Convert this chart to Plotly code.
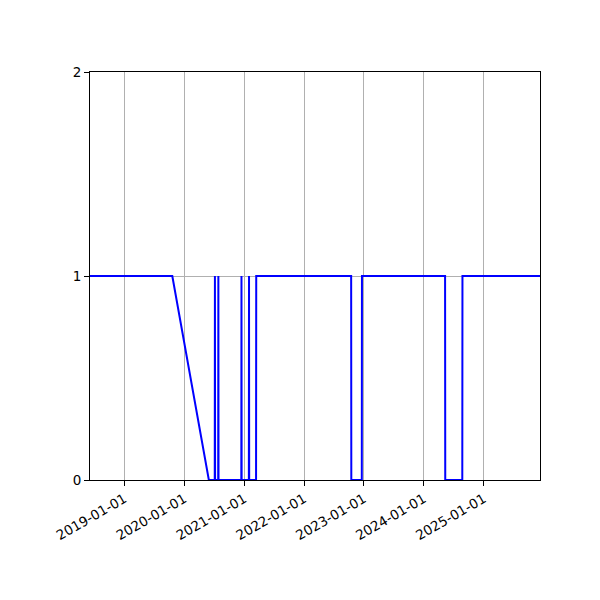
import plotly.graph_objects as go

# daily 0/1 flag, written as the points where it changes
dates = [
    "2018-06-05", "2019-10-20", "2020-05-30",
    "2020-07-05", "2020-07-06", "2020-07-07",
    "2020-07-26", "2020-07-27", "2020-07-28",
    "2020-12-14", "2020-12-15", "2020-12-16",
    "2021-01-29", "2021-01-30", "2021-01-31",
    "2021-03-14", "2021-03-15",
    "2022-10-15", "2022-10-16",
    "2022-12-19", "2022-12-20",
    "2024-05-10", "2024-05-11",
    "2024-08-23", "2024-08-24",
    "2025-12-10",
]
values = [
    1, 1, 0,
    0, 1, 0,
    0, 1, 0,
    0, 1, 0,
    0, 1, 0,
    0, 1,
    1, 0,
    0, 1,
    1, 0,
    0, 1,
    1,
]
x_ticks = ["2019-01-01", "2020-01-01", "2021-01-01", "2022-01-01",
           "2023-01-01", "2024-01-01", "2025-01-01"]
y_ticks = [0, 1, 2]

fig = go.Figure()
fig.add_trace(go.Scatter(
    x=dates,
    y=values,
    mode="lines",
    line=dict(color="blue", width=2),
    showlegend=False,
))

axis_style = dict(
    showline=True,
    linecolor="black",
    linewidth=1,
    mirror=True,
    ticks="outside",
    ticklen=5,
    tickwidth=1,
    tickcolor="black",
    showgrid=True,
    gridcolor="#b0b0b0",
    gridwidth=1,
    zeroline=False,
    tickfont=dict(family="DejaVu Sans", size=13.5, color="black"),
)

# page body adds an 8px offset, so margins are shifted to compensate
fig.update_layout(
    width=600,
    height=600,
    margin=dict(l=82, r=68, t=64, b=128),
    plot_bgcolor="white",
    paper_bgcolor="white",
    xaxis=dict(
        type="date",
        range=[dates[0], dates[-1]],
        tickvals=x_ticks,
        ticktext=x_ticks,
        tickangle=-30,
        **axis_style,
    ),
    yaxis=dict(
        range=[0, 2],
        tickvals=y_ticks,
        **axis_style,
    ),
)

fig.write_html("out.html")
